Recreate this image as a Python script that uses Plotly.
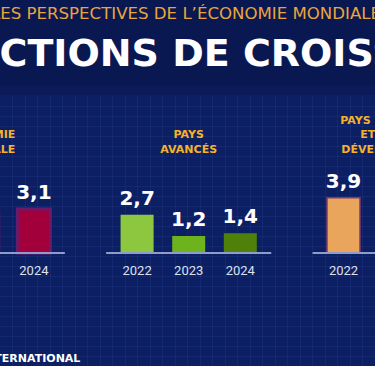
import plotly.graph_objects as go

# ---------------- data ----------------
years = ["2022", "2023", "2024"]
group_titles = ["ÉCONOMIE<br>MONDIALE", "PAYS<br>AVANCÉS",
                "PAYS ÉMERGENTS<br>ET PAYS EN<br>DÉVELOPPEMENT"]
world = [3.4, 2.9, 3.1]
advanced = [2.7, 1.2, 1.4]
emerging = [3.9, 4.0, 4.2]
series = [world, advanced, emerging]

supertitle = "LES PERSPECTIVES DE L’ÉCONOMIE MONDIALE"
main_title = "PROJECTIONS DE CROISSANCE"
footer = "FONDS MONÉTAIRE INTERNATIONAL"

# ---------------- styles ----------------
bar_fill = [["#C8325E", "#74206A", "#A2003A"],
            ["#8DC63F", "#6CB31D", "#4F800A"],
            ["#E9A55B", "#E27D3C", "#CB5E2B"]]
bar_edge = [["#6B1A6B", "#5A1A6A", "#6B1A6B"],
            ["#8DC63F", "#6CB31D", "#4F800A"],
            ["#7D3A6A", "#7D3A6A", "#7D3A6A"]]
bar_edge_w = [3, 0, 1.5]

W, H = 375, 366
SLOT = 4            # bar slots per group
PX_PER_X = 51.6
X0 = 1.343
PX_PER_Y = 14.16
BASE_PX = 253
BG_TOP = "#0A1852"
BG_LOW = "#0D1F63"
GRID = "rgba(60,95,190,0.15)"


def py_to_y(p):
    return (BASE_PX - p) / PX_PER_Y


x_range = [X0, X0 + W / PX_PER_X]
y_range = [py_to_y(H), py_to_y(0)]

xs, vals, fills, edges, edge_ws, labels, year_txt = [], [], [], [], [], [], []
for g, s in enumerate(series):
    for i, v in enumerate(s):
        xs.append(g * SLOT + i)
        vals.append(v)
        fills.append(bar_fill[g][i])
        edges.append(bar_edge[g][i])
        edge_ws.append(bar_edge_w[g])
        labels.append(f"{v:.1f}".replace(".", ","))
        year_txt.append(years[i])

group_centers = [g * SLOT + 1 for g in range(len(series))]

fig = go.Figure()

# decorative grid (lower area only)
fig.add_trace(go.Scatter(x=[None], y=[None], xaxis="x", yaxis="y",
                         showlegend=False, hoverinfo="skip"))

# baselines per group
bx, by = [], []
for c in group_centers:
    bx += [c - 1.6, c + 1.6, None]
    by += [0, 0, None]
fig.add_trace(go.Scatter(x=bx, y=by, mode="lines", xaxis="x2", yaxis="y2",
                         line=dict(color="#8F9BC8", width=2),
                         showlegend=False, hoverinfo="skip"))

fig.add_trace(go.Bar(x=xs, y=vals, width=0.64, xaxis="x2", yaxis="y2",
                     marker=dict(color=fills, line=dict(color=edges, width=edge_ws)),
                     showlegend=False, hoverinfo="skip"))

# value labels
fig.add_trace(go.Scatter(x=xs, y=[v + 4.75 / PX_PER_Y for v in vals], mode="text",
                         text=labels, textposition="top center", xaxis="x2", yaxis="y2",
                         textfont=dict(family="DejaVu Sans", size=20, color="white",
                                       weight="bold"),
                         cliponaxis=True, showlegend=False, hoverinfo="skip"))

# year labels
fig.add_trace(go.Scatter(x=xs, y=[py_to_y(272)] * len(xs), mode="text",
                         text=year_txt, textposition="middle center", xaxis="x2", yaxis="y2",
                         textfont=dict(family="Roboto", size=13, color="#DDE2EE"),
                         cliponaxis=True, showlegend=False, hoverinfo="skip"))

# group titles
fig.add_trace(go.Scatter(x=group_centers, y=[py_to_y(155.3)] * len(group_centers),
                         mode="text", text=group_titles, textposition="top center",
                         xaxis="x2", yaxis="y2",
                         textfont=dict(family="DejaVu Sans", size=11, color="#F6B22A",
                                       weight="bold"),
                         cliponaxis=True, showlegend=False, hoverinfo="skip"))

fig.update_layout(
    width=W, height=H,
    margin=dict(l=0, r=0, t=0, b=0),
    paper_bgcolor=BG_TOP,
    plot_bgcolor="rgba(0,0,0,0)",
    showlegend=False,
    hovermode=False,
    xaxis=dict(domain=[0, 1], range=[0, W], dtick=12.5, showgrid=True,
               gridcolor=GRID, gridwidth=1, zeroline=False,
               showticklabels=False, showline=False, ticks="", fixedrange=True),
    yaxis=dict(domain=[0, 1 - 95 / H], range=[0, H - 95], dtick=10, showgrid=True,
               gridcolor=GRID, gridwidth=1, zeroline=False,
               showticklabels=False, showline=False, ticks="", fixedrange=True),
    xaxis2=dict(domain=[0, 1], anchor="y2", range=x_range, visible=False, fixedrange=True),
    yaxis2=dict(domain=[0, 1], anchor="x2", range=y_range, visible=False, fixedrange=True),
    shapes=[
        dict(type="rect", xref="paper", yref="paper", x0=0, x1=1, y0=0, y1=1 - 95 / H,
             fillcolor=BG_LOW, line=dict(width=0), layer="below"),
        dict(type="rect", xref="paper", yref="paper", x0=0, x1=1,
             y0=1 - 95 / H, y1=1 - 85 / H,
             fillcolor="#0B1B5A", line=dict(width=0), layer="below"),
    ],
    annotations=[
        dict(text=supertitle, xref="paper", yref="paper", x=-11 / W, y=1 - 13.5 / H,
             xanchor="left", yanchor="middle", showarrow=False,
             font=dict(family="DejaVu Sans", size=16.6, color="#E9A53C")),
        dict(text=main_title, xref="paper", yref="paper", x=-132 / W, y=1 - 53 / H,
             xanchor="left", yanchor="middle", showarrow=False,
             font=dict(family="DejaVu Sans", size=38, color="white", weight="bold")),
        dict(text=footer, xref="paper", yref="paper", x=82 / W, y=1 - 358 / H,
             xanchor="right", yanchor="middle", showarrow=False,
             font=dict(family="DejaVu Sans", size=11, color="white", weight="bold")),
    ],
)

fig.write_html(
    "out.html",
    config={"displayModeBar": False, "staticPlot": True},
    post_script="document.body.style.margin='0';document.body.style.padding='0';"
                "document.body.style.overflow='hidden';"
                "document.documentElement.style.overflow='hidden';",
)
